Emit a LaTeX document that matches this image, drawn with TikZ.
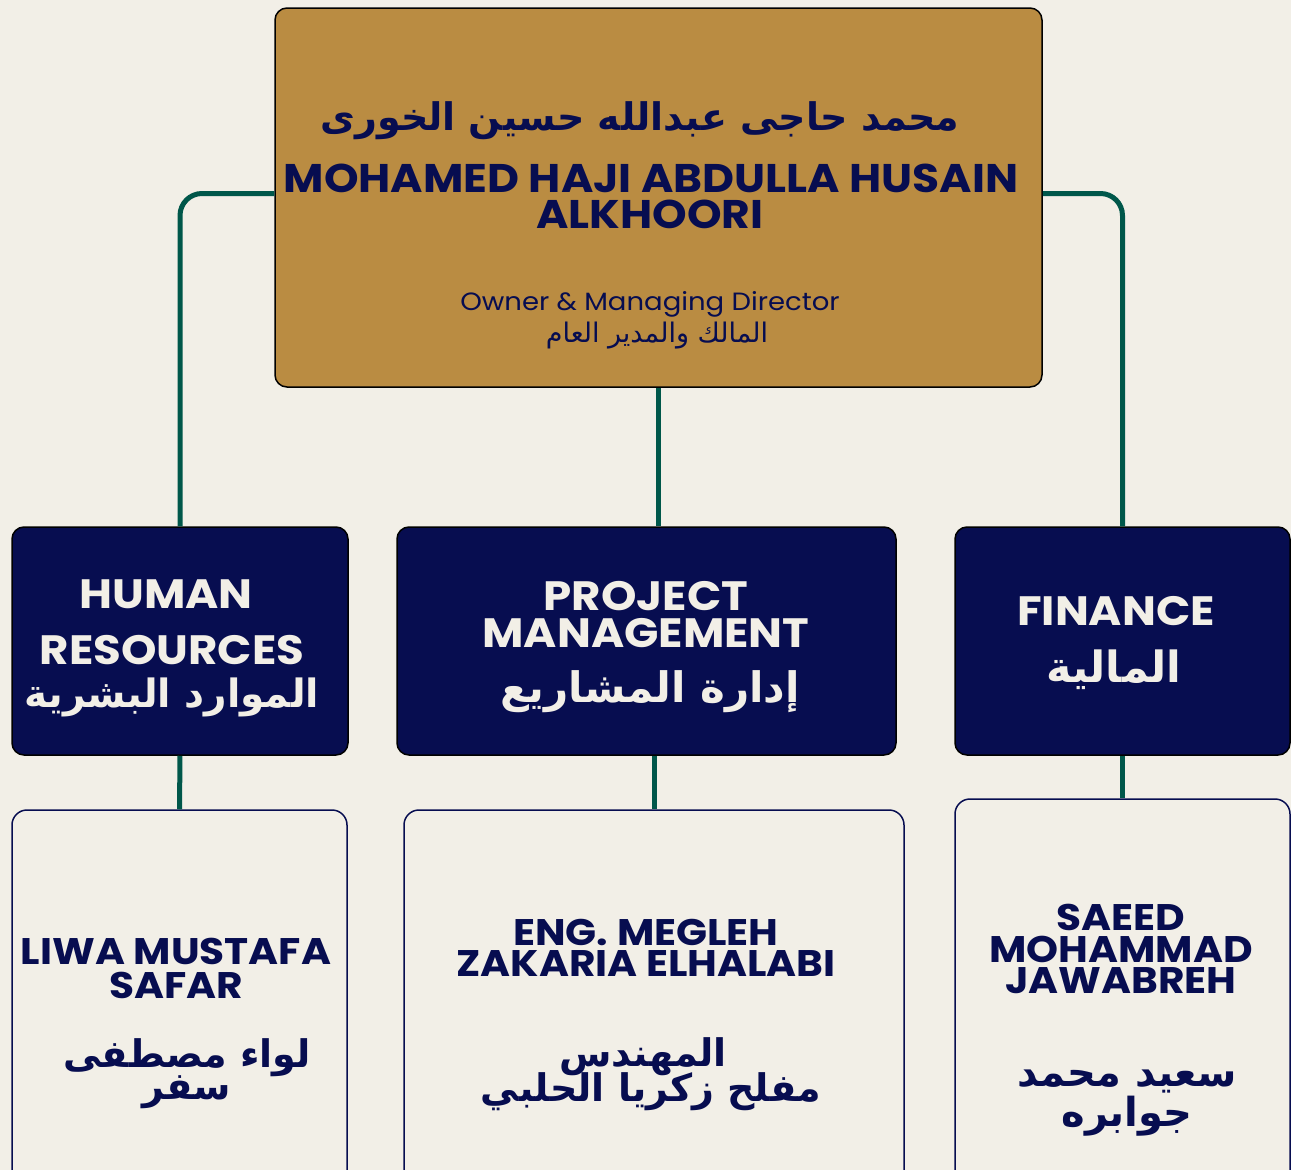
\documentclass[tikz,border=0pt]{standalone}
\usepackage{fontspec}
\setmainfont{Poppins}[FakeStretch=1.1]
\newfontfamily\arabicfont[Script=Arabic]{DejaVu Sans}
\TeXXeTstate=1
\usetikzlibrary{positioning}
\definecolor{cream}{HTML}{F2EFE7}
\definecolor{gold}{HTML}{BA8C42}
\definecolor{navy}{HTML}{070D50}
\definecolor{linkgreen}{HTML}{00574A}
\tikzstyle{head} = [rectangle, rounded corners=12pt, draw=black, line width=1.5pt, fill=gold, minimum width=767pt, minimum height=379pt]
\tikzstyle{dept} = [rectangle, rounded corners=12pt, draw=black, line width=1.5pt, fill=navy, minimum height=228pt]
\tikzstyle{staff} = [rectangle, rounded corners=15pt, draw=navy, line width=1.5pt, fill=cream]
\tikzstyle{link} = [line width=5pt, draw=linkgreen, rounded corners=22pt]
\tikzstyle{entxt} = [inner sep=0pt, font=\bfseries\fontsize{40}{40}\selectfont]
\tikzstyle{depttxt} = [inner sep=0pt, text=cream, font=\bfseries\fontsize{41}{41}\selectfont]
\tikzstyle{stafftxt} = [inner sep=0pt, text=navy, font=\bfseries\fontsize{37}{37}\selectfont]
\tikzset{artxt/.style={inner sep=0pt, font=\arabicfont\bfseries\fontsize{#1}{#1}\selectfont}, artxt/.default=40}

\begin{document}
\begin{tikzpicture}[x=1pt, y=-1pt]
	\fill [cream] (0,0) rectangle (1291,1170);
	\useasboundingbox (0,0) rectangle (1291,1170);
	\clip (0,0) rectangle (1291,1170);
	% boxes
	\node (owner) [head] at (658.5,197.5) {};
	\node (hr) [dept, minimum width=336pt] at (180,641) {};
	\node (pm) [dept, minimum width=499pt] at (646.5,641) {};
	\node (fin) [dept, minimum width=335pt] at (1122.5,641) {};
	\node (liwa) [staff, minimum width=335pt, minimum height=380pt] at (179.5,1000) {};
	\node (megleh) [staff, minimum width=500pt, minimum height=380pt] at (654,1000) {};
	\node (saeed) [staff, minimum width=335pt, minimum height=391pt] at (1122.5,994.5) {};
	% connectors
	\draw [link] ([yshift=4pt]owner.west) -| (hr.north);
	\draw [link] ([yshift=4pt]owner.east) -| (fin.north);
	\draw [link] (owner.south) -- (owner.south |- pm.north);
	\draw [link] (hr.south) -- (liwa.north);
	\draw [link] (megleh.north |- pm.south) -- (megleh.north);
	\draw [link] (fin.south) -- (saeed.north);
	% owner texts
	\node (ownerAr) [artxt=38, text=navy] at (640,121) {\beginR محمد حاجى عبدالله حسين الخورى\endR};
	\node (ownerEn) [entxt, text=navy] at (651,178) {MOHAMED HAJI ABDULLA HUSAIN};
	\node (ownerEnB) [entxt, text=navy] at (650,214) {ALKHOORI};
	\node (roleEn) [inner sep=0pt, text=navy, font=\fontsize{25}{25}\selectfont] at (650,304) {Owner \& Managing Director};
	\node (roleAr) [inner sep=0pt, text=navy, font=\arabicfont\fontsize{27}{27}\selectfont] at (657,336) {\beginR المالك والمدير العام\endR};
	% department texts
	\node (hrEn) [depttxt] at (166,594) {HUMAN};
	\node (hrEnB) [depttxt] at (172,650) {RESOURCES};
	\node (hrAr) [artxt=39, text=cream] at (172,697) {\beginR الموارد البشرية\endR};
	\node (pmEn) [depttxt] at (646,596) {PROJECT};
	\node (pmEnB) [depttxt] at (646,633) {MANAGEMENT};
	\node (pmAr) [artxt=42, text=cream] at (650,692) {\beginR إدارة المشاريع\endR};
	\node (finEn) [depttxt] at (1116,611) {FINANCE};
	\node (finAr) [artxt=43, text=cream] at (1114,670) {\beginR المالية\endR};
	% staff texts
	\node (liwaEn) [stafftxt] at (176,951) {LIWA MUSTAFA};
	\node (liwaEnB) [stafftxt] at (176,985) {SAFAR};
	\node (liwaAr) [artxt=38, text=navy] at (187,1058) {\beginR لواء مصطفى\endR};
	\node (liwaArB) [artxt=38, text=navy] at (187,1092) {\beginR سفر\endR};
	\node (meglehEn) [stafftxt] at (646,933) {ENG. MEGLEH};
	\node (meglehEnB) [stafftxt] at (646,964) {ZAKARIA ELHALABI};
	\node (meglehAr) [artxt=38, text=navy] at (643,1057) {\beginR المهندس\endR};
	\node (meglehArB) [artxt=38, text=navy] at (651,1092) {\beginR مفلح زكريا الحلبي\endR};
	\node (saeedEn) [stafftxt] at (1121,917) {SAEED};
	\node (saeedEnB) [stafftxt] at (1121,949) {MOHAMMAD};
	\node (saeedEnC) [stafftxt] at (1121,981) {JAWABREH};
	\node (saeedAr) [artxt, text=navy] at (1127,1082) {\beginR سعيد محمد\endR};
	\node (saeedArB) [artxt, text=navy] at (1127,1116) {\beginR جوابره\endR};
\end{tikzpicture}
\end{document}
